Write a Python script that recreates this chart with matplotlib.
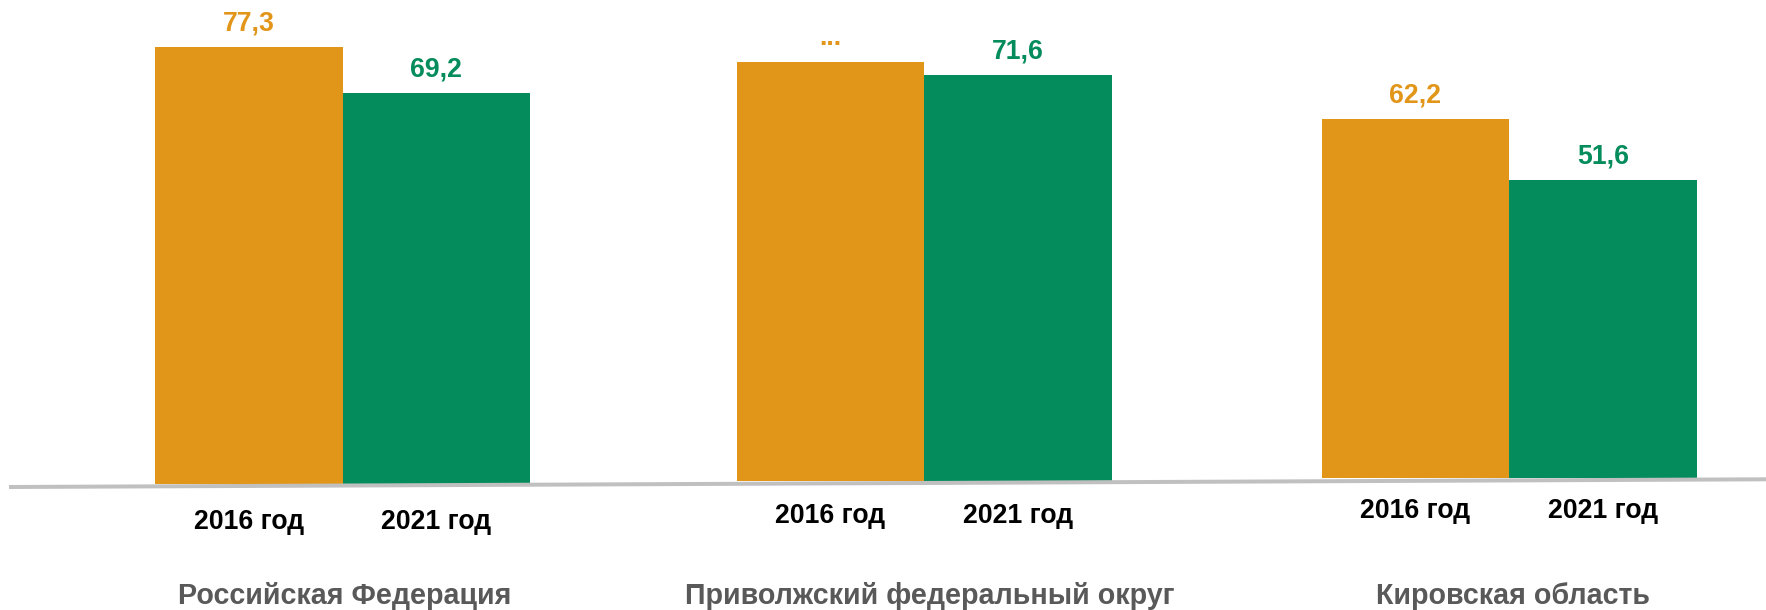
import matplotlib
matplotlib.use("Agg")
import matplotlib.pyplot as plt
from matplotlib.lines import Line2D
from matplotlib.transforms import blended_transform_factory

plt.rcParams['font.family'] = ['Liberation Sans', 'DejaVu Sans']

# ---- data ----
regions = ['Российская Федерация', 'Приволжский федеральный округ', 'Кировская область']
years = ['2016 год', '2021 год']
values_2016 = [77.3, 73.9, 62.2]
values_2021 = [69.2, 71.6, 51.6]
labels_2016 = ['77,3', '...', '62,2']
labels_2021 = ['69,2', '71,6', '51,6']

# ---- style / layout ----
ORANGE = '#E1961A'
GREEN = '#058C5C'
GRAY_TEXT = '#595959'
LINE_GRAY = '#C0C0C0'

W, H, DPI = 1766, 610, 100
group_center_px = [342.5, 924, 1509]
base_px = [484, 481, 477.5]          # baseline (pixels from top) per group
px_per_unit = [5.65, 5.67, 5.765]    # slight perspective per group
year_baseline_px = [529, 523.3, 518.3]
group_baseline_px = 604.3
group_label_dx = [2, 6, 4]
bar_w_px = 187.5
axes_w_px = 560

fig = plt.figure(figsize=(W / DPI, H / DPI), dpi=DPI)
fig.patch.set_facecolor('white')

for i, region in enumerate(regions):
    c = group_center_px[i]
    base = base_px[i]
    ax = fig.add_axes([(c - axes_w_px / 2) / W, (H - base) / H, axes_w_px / W, base / H])
    ax.set_xlim(-0.5, 0.5)
    ax.set_ylim(0, base / px_per_unit[i])
    ax.axis('off')
    w = bar_w_px / axes_w_px
    xs = [-w / 2, w / 2]
    vals = [values_2016[i], values_2021[i]]
    labs = [labels_2016[i], labels_2021[i]]
    cols = [ORANGE, GREEN]
    ax.bar(xs, vals, width=w, color=cols, linewidth=0)
    for x, v, lab, col in zip(xs, vals, labs, cols):
        ax.annotate(lab, (x, v), xytext=(0, 16.5 * 72 / DPI), textcoords='offset points',
                    ha='center', va='baseline', fontsize=19.2, fontweight='bold',
                    color=col, annotation_clip=False)
    tr = blended_transform_factory(ax.transData, fig.transFigure)
    for x, yl in zip(xs, years):
        ax.text(x, (H - year_baseline_px[i]) / H, yl, transform=tr, ha='center',
                va='baseline', fontsize=19.2, fontweight='bold', color='black', clip_on=False)
    ax.text(group_label_dx[i] / axes_w_px, (H - group_baseline_px) / H, region, transform=tr,
            ha='center', va='baseline', fontsize=20.6, fontweight='bold', color=GRAY_TEXT,
            clip_on=False)

# slanted baseline
fig.add_artist(Line2D([9 / W, 1.0], [(H - 487) / H, (H - 479.3) / H],
                      transform=fig.transFigure, color=LINE_GRAY, linewidth=4 * 72 / DPI,
                      solid_capstyle='butt'))

fig.savefig('out.png', dpi=DPI, facecolor='white')
